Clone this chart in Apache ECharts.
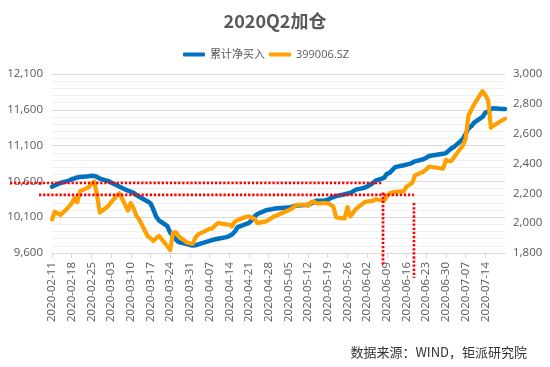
<!DOCTYPE html>
<html>
<head>
<meta charset="utf-8">
<script src="https://cdn.jsdelivr.net/npm/echarts@6/dist/echarts.min.js"></script>
<style>
html,body{margin:0;padding:0;background:#fff;}
#chart{width:550px;height:367px;}
</style>
</head>
<body>
<div id="chart"></div>
<script>
// ---- data ----
var titleText = '2020Q2加仓';
var seriesNames = ['累计净买入', '399006.SZ'];
var sourceText = '数据来源：WIND，钜派研究院';
var axisStart = '2020-02-11';
var axisEnd = '2020-07-21';
var leftTicks = [9600, 10100, 10600, 11100, 11600, 12100];
var rightTicks = [1800, 2000, 2200, 2400, 2600, 2800, 3000];

var tradeDates = [
 '2020-02-11','2020-02-12','2020-02-13','2020-02-14','2020-02-17','2020-02-18','2020-02-19','2020-02-20','2020-02-21',
 '2020-02-24','2020-02-25','2020-02-26','2020-02-27','2020-02-28','2020-03-02','2020-03-03','2020-03-04','2020-03-05','2020-03-06',
 '2020-03-09','2020-03-10','2020-03-11','2020-03-12','2020-03-13','2020-03-16','2020-03-17','2020-03-18','2020-03-19','2020-03-20',
 '2020-03-23','2020-03-24','2020-03-25','2020-03-26','2020-03-27','2020-03-30','2020-03-31','2020-04-01','2020-04-02','2020-04-03',
 '2020-04-07','2020-04-08','2020-04-09','2020-04-10','2020-04-13','2020-04-14','2020-04-15','2020-04-16','2020-04-17',
 '2020-04-20','2020-04-21','2020-04-22','2020-04-23','2020-04-24','2020-04-27','2020-04-28','2020-04-29','2020-04-30',
 '2020-05-06','2020-05-07','2020-05-08','2020-05-11','2020-05-12','2020-05-13','2020-05-14','2020-05-15',
 '2020-05-18','2020-05-19','2020-05-20','2020-05-21','2020-05-22','2020-05-25','2020-05-26','2020-05-27','2020-05-28','2020-05-29',
 '2020-06-01','2020-06-02','2020-06-03','2020-06-04','2020-06-05','2020-06-08','2020-06-09','2020-06-10','2020-06-11','2020-06-12',
 '2020-06-15','2020-06-16','2020-06-17','2020-06-18','2020-06-19','2020-06-22','2020-06-23','2020-06-24',
 '2020-06-29','2020-06-30','2020-07-01','2020-07-02','2020-07-03','2020-07-06','2020-07-07','2020-07-08','2020-07-09','2020-07-10',
 '2020-07-13','2020-07-14','2020-07-15','2020-07-16','2020-07-17','2020-07-20','2020-07-21'
];
var netBuy = [
 10525,10545,10562,10578,10612,10630,10642,10655,10662,
 10672,10678,10676,10662,10640,10605,10585,10565,10545,10526,
 10470,10456,10440,10410,10386,10320,10294,10210,10110,10055,
 9975,9885,9840,9790,9752,9725,9712,9705,9708,9720,
 9768,9782,9792,9800,9822,9838,9858,9900,9960,
 10005,10020,10060,10110,10145,10195,10205,10212,10220,
 10240,10255,10262,10270,10275,10290,10310,10330,
 10335,10345,10365,10380,10395,10420,10430,10438,10460,10485,
 10510,10530,10550,10575,10610,10650,10705,10720,10760,10800,
 10825,10835,10845,10860,10880,10910,10930,10955,
 10985,10995,11030,11063,11085,11190,11260,11340,11370,11420,
 11500,11560,11580,11610,11622,11612,11610
];
var chinext = [
 2025,2077,2065,2055,2110,2133,2170,2140,2215,
 2240,2265,2280,2190,2070,2115,2140,2160,2185,2200,
 2085,2135,2100,2050,2025,1912,1900,1880,1900,1915,
 1845,1820,1935,1940,1912,1870,1865,1862,1905,1925,
 1962,1965,1985,2000,1992,1990,1978,2012,2020,
 2043,2045,2035,2030,2000,2012,2020,2035,2045,
 2095,2110,2122,2125,2115,2140,2145,2133,
 2135,2133,2125,2110,2038,2032,2108,2045,2070,2095,
 2140,2145,2148,2150,2160,2150,2180,2200,2205,2210,
 2215,2245,2258,2270,2320,2345,2360,2380,
 2365,2425,2415,2418,2445,2520,2565,2720,2760,2795,
 2885,2860,2825,2640,2655,2690,2700
];
// annotation reference values (dotted guides)
var guideNetBuy = 10578;     // upper horizontal, left axis
var guideIndex = 2190;       // lower horizontal, right axis
var guideDate1 = '2020-06-08';
var guideDate2 = '2020-06-19';

// ---- build calendar category axis ----
function fmtDate(d){
  var m = d.getUTCMonth()+1, day = d.getUTCDate();
  return d.getUTCFullYear()+'-'+(m<10?'0':'')+m+'-'+(day<10?'0':'')+day;
}
var calendar = [];
(function(){
  var d = new Date(axisStart+'T00:00:00Z'), e = new Date(axisEnd+'T00:00:00Z');
  while (d <= e) { calendar.push(fmtDate(d)); d = new Date(d.getTime()+86400000); }
})();
function thousands(v){ return String(v).replace(/\B(?=(\d{3})+(?!\d))/g, ','); }

var FONT = '"Open Sans", "Noto Sans CJK SC", sans-serif';
var chart = echarts.init(document.getElementById('chart'), null, {renderer:'canvas'});
var option = {
  animation: false,
  backgroundColor: '#ffffff',
  title: {
    text: titleText, left: 'center', top: 7,
    textStyle: {fontSize: 18, fontWeight: 'bold', color: '#595959', fontFamily: '"Noto Sans CJK SC", "Open Sans", sans-serif'}
  },
  legend: {
    left: 178, top: 44, itemWidth: 22, itemHeight: 4, itemGap: 4, icon: 'roundRect',
    textStyle: {fontSize: 11, color: '#595959', fontFamily: FONT},
    data: seriesNames
  },
  grid: {left: 52, right: 45, top: 74, bottom: 114, containLabel: false},
  xAxis: {
    type: 'category', data: calendar, boundaryGap: false,
    axisLine: {lineStyle: {color: '#d9d9d9', width: 1}},
    axisTick: {show: true, interval: 6, length: 5, lineStyle: {color: '#d9d9d9'}},
    axisLabel: {interval: 6, rotate: 90, margin: 9, fontSize: 11.5, color: '#595959', fontFamily: FONT, showMaxLabel: false},
    splitLine: {show: false}
  },
  yAxis: [{
    type: 'value', min: leftTicks[0], max: leftTicks[leftTicks.length-1], interval: 500, position: 'left',
    axisLine: {show: false}, axisTick: {show: false},
    axisLabel: {margin: 9, fontSize: 11.5, color: '#595959', fontFamily: FONT, formatter: thousands},
    splitLine: {show: true, lineStyle: {color: '#d9d9d9', width: 1}},
    minorTick: {show: false, splitNumber: 5},
    minorSplitLine: {show: true, lineStyle: {color: '#efefef', width: 1}}
  }, {
    type: 'value', min: rightTicks[0], max: rightTicks[rightTicks.length-1], interval: 200, position: 'right',
    axisLine: {show: false}, axisTick: {show: false},
    axisLabel: {margin: 8, fontSize: 11.5, color: '#595959', fontFamily: FONT, formatter: thousands},
    splitLine: {show: false}
  }],
  series: [{
    name: seriesNames[0], type: 'line', yAxisIndex: 0,
    data: tradeDates.map(function(d,i){ return [d, netBuy[i]]; }),
    showSymbol: false, symbol: 'none', smooth: false,
    itemStyle: {color: '#0070C0'},
    lineStyle: {color: '#0070C0', width: 4.5, join: 'round', cap: 'round'},
    z: 2
  }, {
    name: seriesNames[1], type: 'line', yAxisIndex: 1,
    data: tradeDates.map(function(d,i){ return [d, chinext[i]]; }),
    showSymbol: false, symbol: 'none', smooth: false,
    itemStyle: {color: '#FFA000'},
    lineStyle: {color: '#FFA000', width: 4.2, join: 'round', cap: 'round'},
    z: 3
  }],
  graphic: [{
    type: 'text', right: 23, top: 346,
    style: {text: sourceText, fill: '#333333', font: '13px "Noto Sans CJK SC", sans-serif'}
  }]
};
chart.setOption(option);

// dotted guide lines (positions derived from data via the chart's own scales)
(function(){
  var gridLeft = 52, gridBottomY = chart.getHeight() - 114;
  var yUpper = chart.convertToPixel({yAxisIndex: 0}, guideNetBuy);
  var yLower = chart.convertToPixel({yAxisIndex: 1}, guideIndex);
  var x1 = chart.convertToPixel({xAxisIndex: 0}, guideDate1);
  var x2 = chart.convertToPixel({xAxisIndex: 0}, guideDate2);
  var v1Top = chart.convertToPixel({yAxisIndex: 1}, 2205);
  var v2Top = chart.convertToPixel({yAxisIndex: 1}, 2135);
  var st = {stroke: '#FF0000', lineWidth: 2.7, lineDash: [2.3, 1.8]};
  var g = option.graphic.slice();
  g.push({type:'line', z: 100, shape:{x1: gridLeft-42, y1: yUpper, x2: x1-1, y2: yUpper}, style: st});
  g.push({type:'line', z: 100, shape:{x1: gridLeft-13, y1: yLower, x2: x2-1, y2: yLower}, style: st});
  g.push({type:'line', z: 100, shape:{x1: x1-1, y1: v1Top, x2: x1-1, y2: gridBottomY+12}, style: st});
  g.push({type:'line', z: 100, shape:{x1: x2-1, y1: v2Top, x2: x2-1, y2: gridBottomY+25}, style: st});
  chart.setOption({graphic: g});
})();
</script>
</body>
</html>
